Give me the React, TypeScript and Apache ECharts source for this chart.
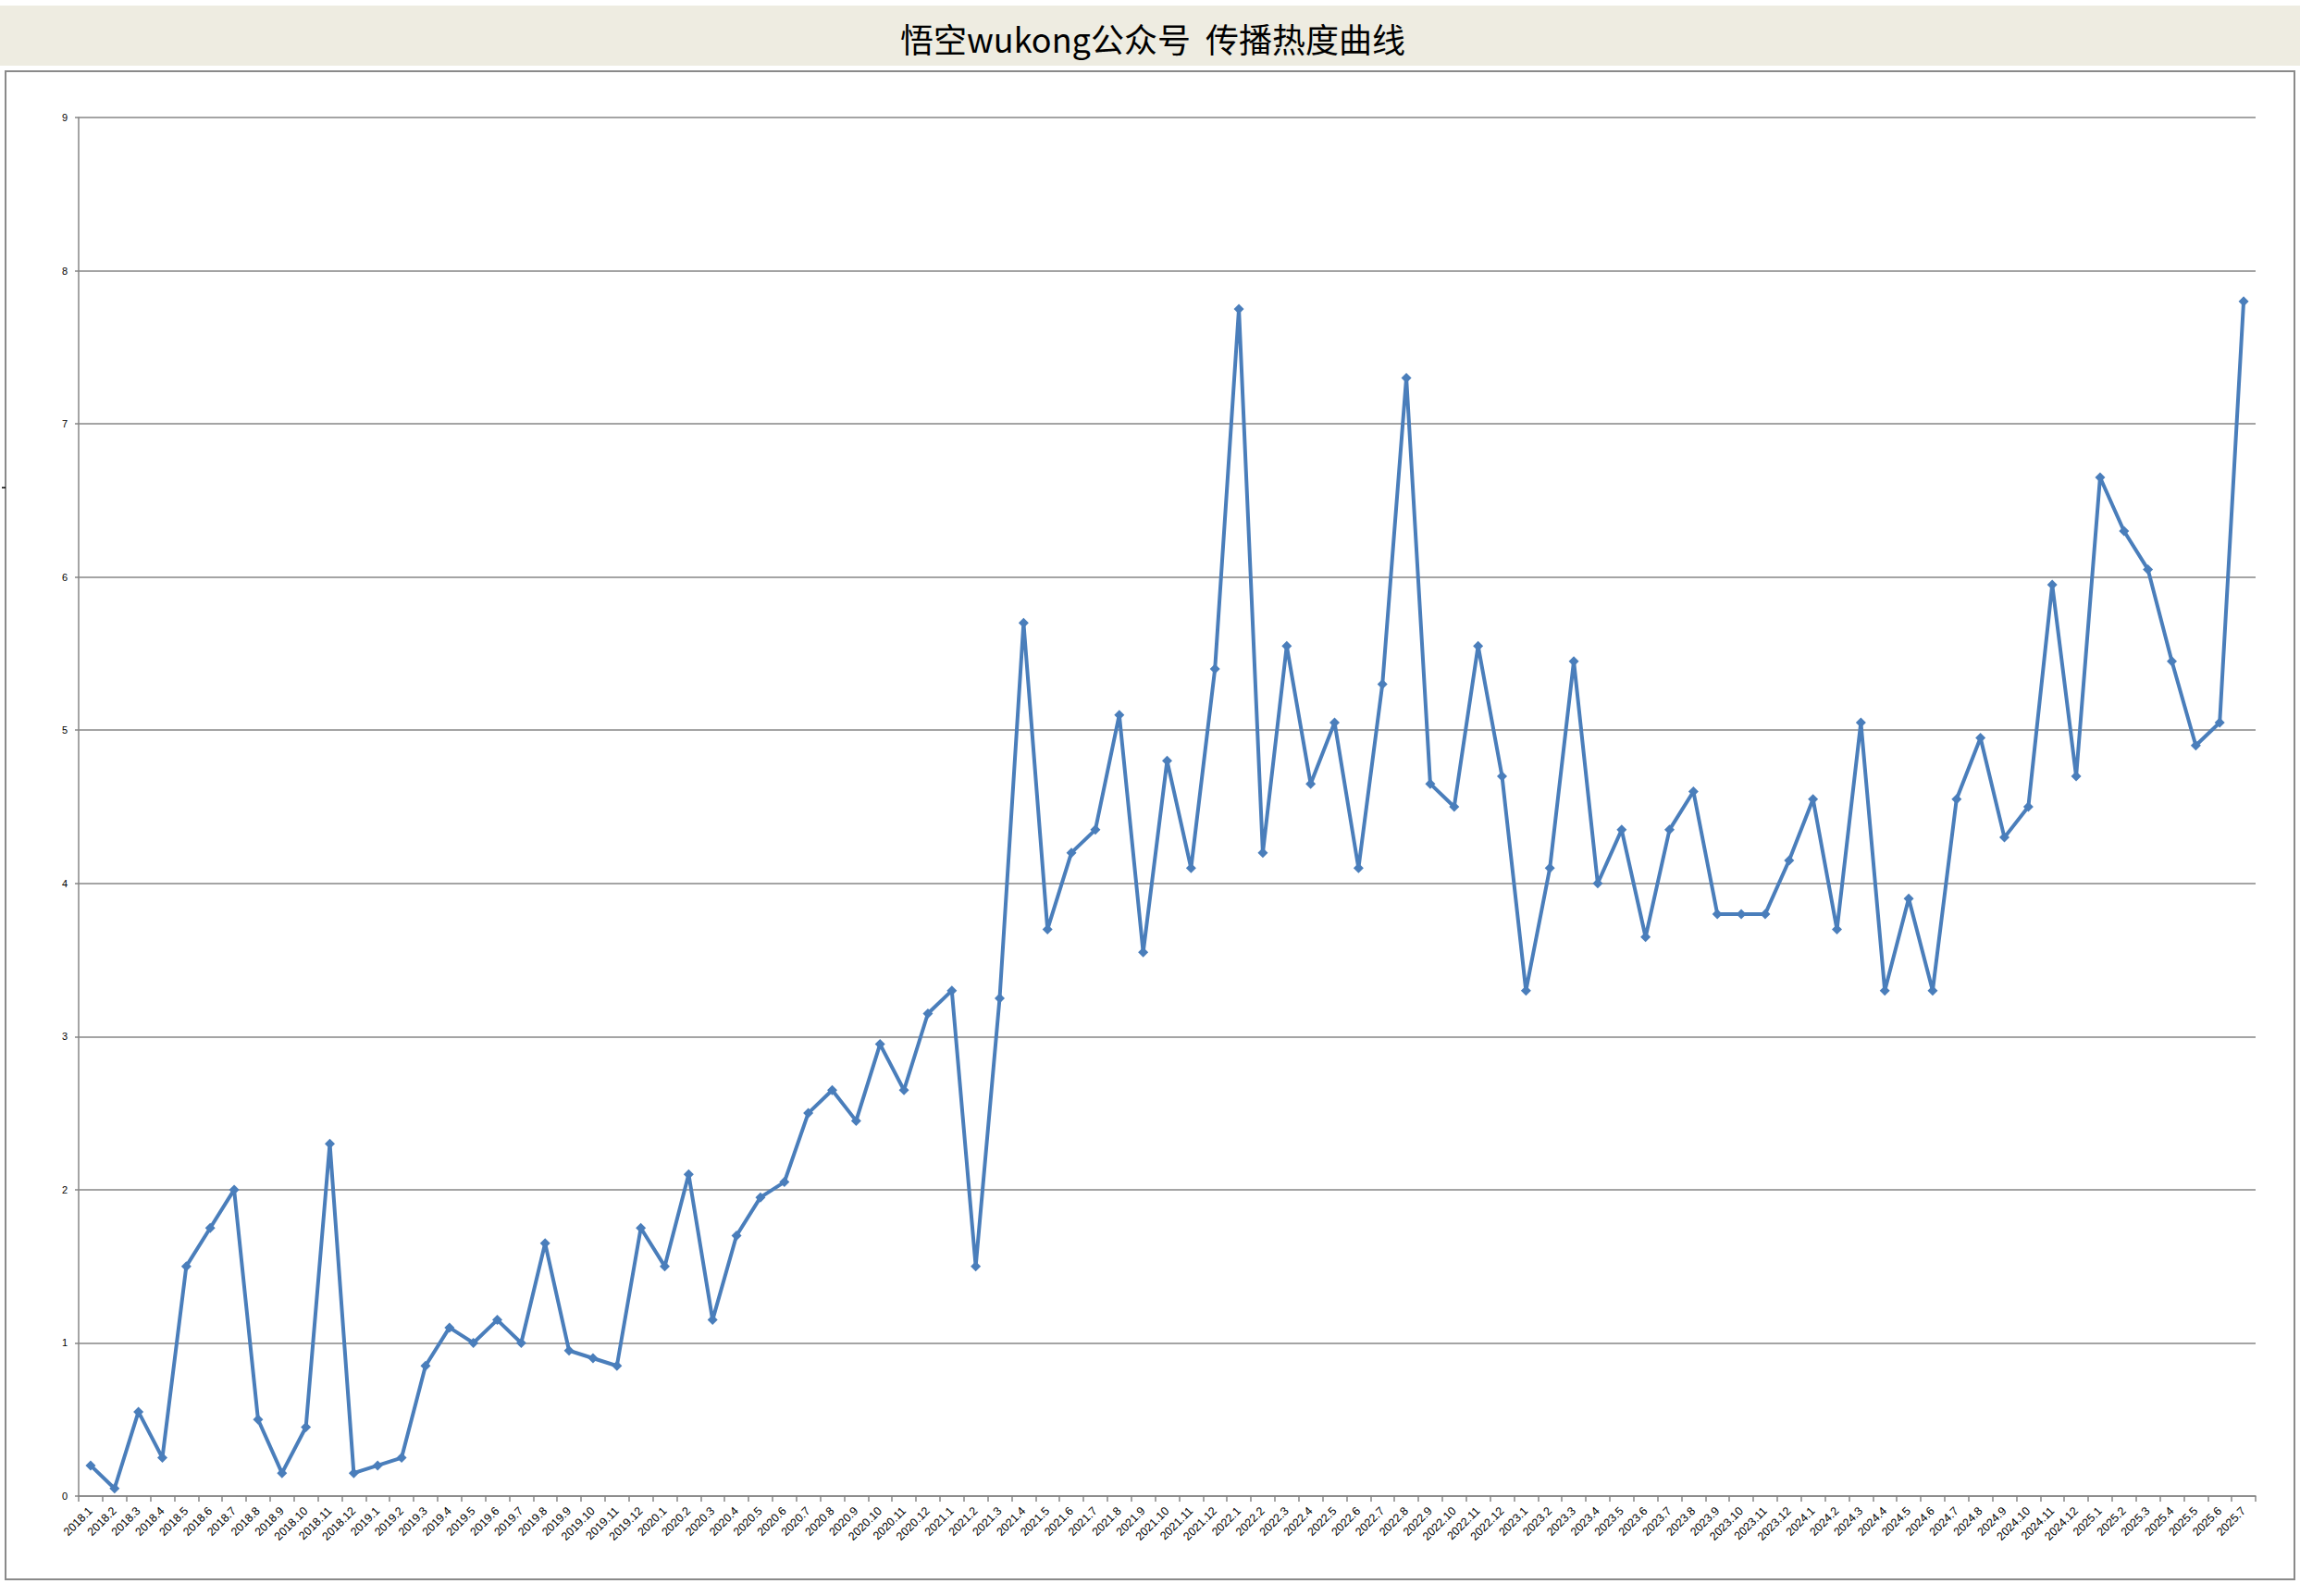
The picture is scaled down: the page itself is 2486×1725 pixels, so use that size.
import React, { useEffect, useRef } from "react";
import * as echarts from "echarts";

const TITLE = "悟空wukong公众号  传播热度曲线";

const CATEGORIES: string[] = [];
const YEARS = [2018, 2019, 2020, 2021, 2022, 2023, 2024, 2025];
for (const y of YEARS) {
  const last = y === 2025 ? 7 : 12;
  for (let m = 1; m <= last; m++) CATEGORIES.push(`${y}.${m}`);
}

const VALUES_2018 = [0.2, 0.05, 0.55, 0.25, 1.5, 1.75, 2.0, 0.5, 0.15, 0.45, 2.3, 0.15];
const VALUES_2019 = [0.2, 0.25, 0.85, 1.1, 1.0, 1.15, 1.0, 1.65, 0.95, 0.9, 0.85, 1.75];
const VALUES_2020 = [1.5, 2.1, 1.15, 1.7, 1.95, 2.05, 2.5, 2.65, 2.45, 2.95, 2.65, 3.15];
const VALUES_2021 = [3.3, 1.5, 3.25, 5.7, 3.7, 4.2, 4.35, 5.1, 3.55, 4.8, 4.1, 5.4];
const VALUES_2022 = [7.75, 4.2, 5.55, 4.65, 5.05, 4.1, 5.3, 7.3, 4.65, 4.5, 5.55, 4.7];
const VALUES_2023 = [3.3, 4.1, 5.45, 4.0, 4.35, 3.65, 4.35, 4.6, 3.8, 3.8, 3.8, 4.15];
const VALUES_2024 = [4.55, 3.7, 5.05, 3.3, 3.9, 3.3, 4.55, 4.95, 4.3, 4.5, 5.95, 4.7];
const VALUES_2025 = [6.65, 6.3, 6.05, 5.45, 4.9, 5.05, 7.8];

const VALUES = [
  ...VALUES_2018,
  ...VALUES_2019,
  ...VALUES_2020,
  ...VALUES_2021,
  ...VALUES_2022,
  ...VALUES_2023,
  ...VALUES_2024,
  ...VALUES_2025,
];

const Y_MIN = 0;
const Y_MAX = 9;
const Y_STEP = 1;

export default function App() {
  const ref = useRef<HTMLDivElement>(null);
  useEffect(() => {
    if (!ref.current) return;
    const chart = echarts.init(ref.current, undefined, { renderer: "svg" });
    const W = 2486;
    chart.setOption({
      animation: false,
      backgroundColor: "#ffffff",
      graphic: [
        {
          type: "rect",
          shape: { x: 0, y: 6, width: W, height: 65 },
          style: { fill: "#EEECE1" },
          silent: true,
          z: -10,
        },
        {
          type: "rect",
          shape: { x: 6, y: 77, width: 2474, height: 1630 },
          style: { fill: "none", stroke: "#8a8a8a", lineWidth: 2 },
          silent: true,
          z: -9,
        },
        {
          type: "line",
          shape: { x1: 2, y1: 527, x2: 6, y2: 527 },
          style: { stroke: "#000", lineWidth: 1.5 },
          silent: true,
        },
        {
          type: "text",
          x: 1246,
          y: 41,
          style: {
            text: TITLE,
            fill: "#000",
            font: "36px 'Noto Sans CJK SC', sans-serif",
            align: "center",
            verticalAlign: "middle",
          },
          silent: true,
        },
      ],
      grid: { left: 85, right: 48, top: 127, bottom: 108, containLabel: false },
      xAxis: {
        type: "category",
        data: CATEGORIES,
        boundaryGap: true,
        axisLine: { show: true, lineStyle: { color: "#868686", width: 1.5 } },
        axisTick: { show: true, interval: 0, length: 6, lineStyle: { color: "#868686", width: 1.5 } },
        axisLabel: {
          interval: 0,
          rotate: 45,
          margin: 14,
          fontSize: 12.5,
          color: "#000",
          fontFamily: "'Liberation Sans', Arial, sans-serif",
        },
        splitLine: { show: false },
      },
      yAxis: {
        type: "value",
        min: Y_MIN,
        max: Y_MAX,
        interval: Y_STEP,
        axisLine: { show: true, lineStyle: { color: "#868686", width: 1.5 } },
        axisTick: { show: true, length: 4, lineStyle: { color: "#868686", width: 1.5 } },
        axisLabel: {
          margin: 12,
          fontSize: 11,
          color: "#000",
          fontFamily: "'Liberation Sans', Arial, sans-serif",
        },
        splitLine: { show: true, lineStyle: { color: "#868686", width: 1.5 } },
      },
      series: [
        {
          type: "line",
          data: VALUES,
          symbol: "diamond",
          symbolSize: 11,
          showAllSymbol: true,
          lineStyle: { color: "#4A7EBB", width: 4 },
          itemStyle: { color: "#4A7EBB" },
          z: 5,
        },
      ],
    });
    return () => chart.dispose();
  }, []);
  return (
    <div
      ref={ref}
      style={{ position: "fixed", left: 0, top: 0, width: 2486, height: 1725 }}
    />
  );
}
